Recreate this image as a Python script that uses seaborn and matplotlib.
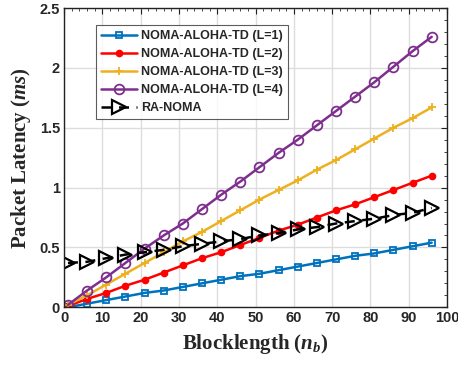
import matplotlib

matplotlib.use("Agg")

import matplotlib.pyplot as plt
import numpy as np
import pandas as pd
import seaborn as sns
from matplotlib.ticker import MultipleLocator

blocklength = [1, 6, 11, 16, 21, 26, 31, 36, 41, 46, 51, 56, 61, 66, 71, 76, 81, 86, 91, 96]
latency_l1 = [0.00, 0.03, 0.06, 0.09, 0.12, 0.14, 0.17, 0.20, 0.23, 0.26,
              0.28, 0.31, 0.34, 0.37, 0.40, 0.43, 0.45, 0.48, 0.51, 0.54]
latency_l2 = [0.01, 0.07, 0.12, 0.18, 0.23, 0.29, 0.35, 0.41, 0.46, 0.52,
              0.58, 0.64, 0.69, 0.75, 0.81, 0.86, 0.92, 0.98, 1.04, 1.10]
latency_l3 = [0.02, 0.10, 0.19, 0.28, 0.37, 0.46, 0.55, 0.63, 0.72, 0.81,
              0.90, 0.98, 1.06, 1.15, 1.23, 1.32, 1.41, 1.50, 1.58, 1.67]
latency_l4 = [0.02, 0.14, 0.25, 0.37, 0.49, 0.60, 0.70, 0.82, 0.94, 1.05,
              1.17, 1.29, 1.40, 1.52, 1.64, 1.76, 1.88, 2.01, 2.14, 2.26]
latency_ra = [0.37, 0.38, 0.41, 0.44, 0.46, 0.48, 0.51, 0.53, 0.55, 0.57,
              0.60, 0.62, 0.65, 0.67, 0.70, 0.72, 0.74, 0.77, 0.79, 0.83]

SERIES = [
    ("NOMA-ALOHA-TD (L=1)", latency_l1),
    ("NOMA-ALOHA-TD (L=2)", latency_l2),
    ("NOMA-ALOHA-TD (L=3)", latency_l3),
    ("NOMA-ALOHA-TD (L=4)", latency_l4),
    ("RA-NOMA", latency_ra),
]

STYLE = {
    "NOMA-ALOHA-TD (L=1)": dict(color="#0072BD", marker="s", mfc="none", ms=5, ls="-", mew=1.3),
    "NOMA-ALOHA-TD (L=2)": dict(color="#FF0000", marker="o", mfc="#FF0000", ms=4.5, ls="-", mew=1.0),
    "NOMA-ALOHA-TD (L=3)": dict(color="#EDB120", marker="+", mfc="none", ms=6, ls="-", mew=1.3),
    "NOMA-ALOHA-TD (L=4)": dict(color="#7E2F8E", marker="o", mfc="none", ms=7, ls="-", mew=1.3),
    "RA-NOMA": dict(color="black", marker=">", mfc="none", ms=9.5, ls=(0, (4, 3)), mew=1.6),
}

df = pd.concat(
    [pd.DataFrame({"n_b": blocklength, "latency": vals, "scheme": name}) for name, vals in SERIES],
    ignore_index=True,
)

sns.set_theme(style="whitegrid")
plt.rcParams.update({
    "font.family": ["Liberation Sans", "DejaVu Sans"],
    "font.weight": "bold",
    "xtick.direction": "in",
    "ytick.direction": "in",
    "grid.color": "#DDDDDD",
    "grid.linewidth": 1.0,
    "mathtext.fontset": "custom",
    "mathtext.it": "Liberation Serif:italic:bold",
    "mathtext.rm": "Liberation Serif:bold",
    "mathtext.bf": "Liberation Serif:bold",
})

fig, ax = plt.subplots(figsize=(4.58, 3.68), dpi=100)
for name, _ in SERIES:
    st = STYLE[name]
    sub = df[df["scheme"] == name]
    sns.lineplot(data=sub, x="n_b", y="latency", ax=ax, label=name,
                 color=st["color"], linestyle=st["ls"], linewidth=1.8,
                 marker=st["marker"], markersize=st["ms"], markerfacecolor=st["mfc"],
                 markeredgecolor=st["color"], markeredgewidth=st["mew"])

ax.set_xlim(0, 100)
ax.set_ylim(0, 2.5)
ax.xaxis.set_major_locator(MultipleLocator(10))
ax.xaxis.set_minor_locator(MultipleLocator(2))
ax.yaxis.set_minor_locator(MultipleLocator(0.1))
ax.set_yticks([0, 0.5, 1, 1.5, 2, 2.5])
ax.set_yticklabels(["0", "0.5", "1", "1.5", "2", "2.5"])
ax.tick_params(which="both", top=True, right=True, colors="#222222", labelcolor="#262626")
ax.tick_params(which="major", length=4, width=0.8, labelsize=10.5, pad=3)
ax.tick_params(which="minor", length=2, width=0.6)
ax.grid(True, which="major")
for sp in ax.spines.values():
    sp.set_color("#222222")
    sp.set_linewidth(1.0)

lab_font = dict(family=["Liberation Serif", "DejaVu Serif"], weight="bold", size=15)
ax.set_xlabel(r"Blocklength ($n_b$)", fontdict=lab_font, labelpad=5)
ax.set_ylabel(r"Packet Latency ($ms$)", fontdict=lab_font, labelpad=5)

leg = ax.legend(loc="upper left", bbox_to_anchor=(0.067, 0.963), frameon=True, fancybox=False,
                prop=dict(family=["Liberation Sans", "DejaVu Sans"], weight="bold", size=9),
                handlelength=2.9, borderpad=0.4, labelspacing=0.48, handletextpad=0.3)
leg.get_frame().set_edgecolor("#333333")
leg.get_frame().set_linewidth(0.8)

fig.subplots_adjust(left=0.14, right=0.976, bottom=0.165, top=0.978)
fig.savefig("out.png", dpi=100)
